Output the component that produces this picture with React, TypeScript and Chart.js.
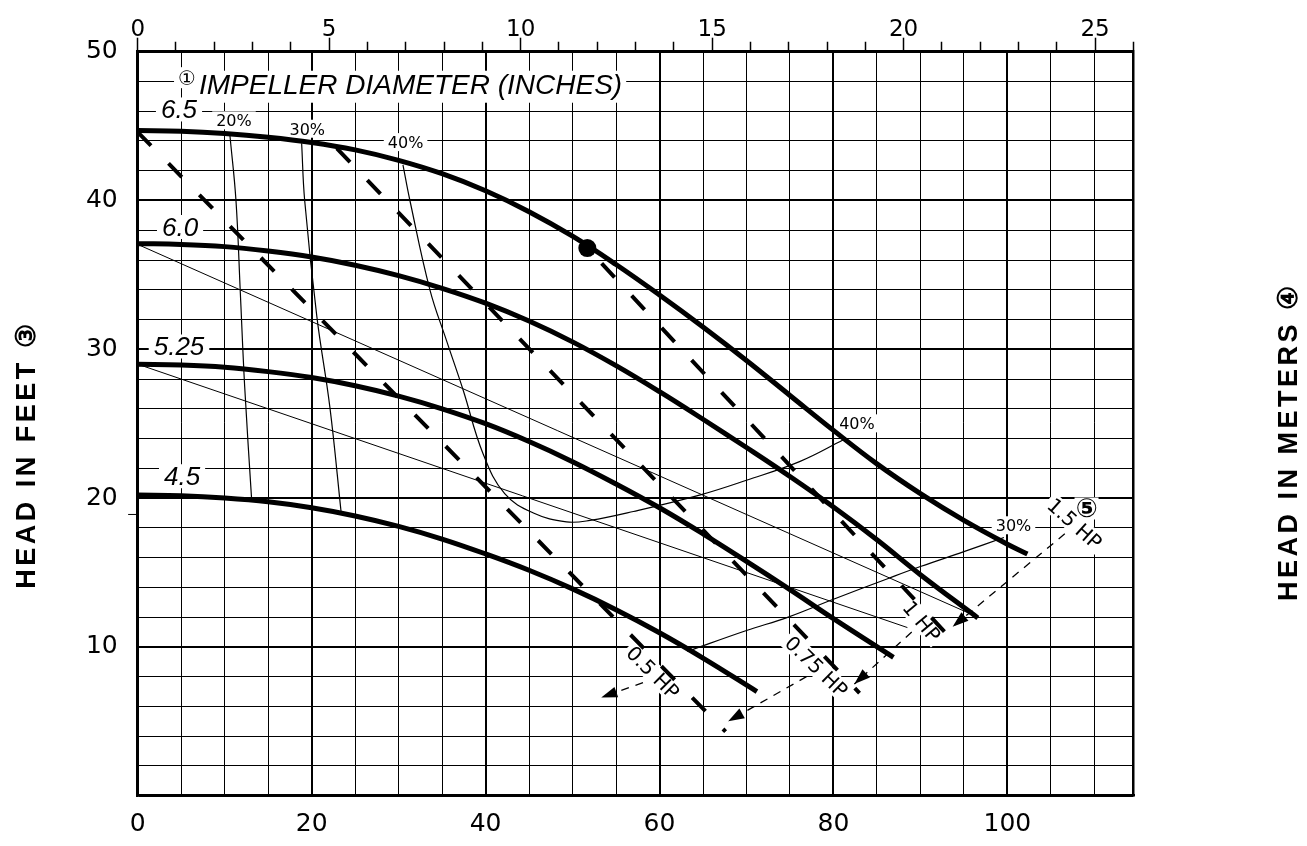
import React, { useEffect, useRef } from 'react';
import { Chart, registerables } from 'chart.js';

Chart.register(...registerables);

type Pt = [number, number];

// ---------- axes ----------
const X_MAX_GPM = 114.5;
const Y_MAX_FT = 50;
const GPM_TO_M3H = 0.2271;
const FT_TO_M = 0.3048;
const bottomTickLabels = [0, 20, 40, 60, 80, 100];
const topTickLabels = [0, 5, 10, 15, 20, 25];
const leftTickLabels = [10, 20, 30, 40, 50];

// ---------- impeller curves (GPM, ft) ----------
const impeller65: Pt[] = [[0, 44.7], [5, 44.65], [10, 44.5], [15, 44.25], [20, 43.9], [25, 43.4], [30, 42.7], [35, 41.8], [40, 40.65], [45, 39.25], [50, 37.6], [55, 35.7], [60, 33.65], [65, 31.5], [70, 29.25], [75, 26.9], [80, 24.55], [85, 22.3], [90, 20.3], [95, 18.5], [100, 16.9], [102.3, 16.25]];
const impeller60: Pt[] = [[0, 37.1], [5, 37.05], [10, 36.9], [15, 36.6], [20, 36.2], [25, 35.65], [30, 34.95], [35, 34.1], [40, 33.1], [45, 31.9], [50, 30.5], [55, 28.9], [60, 27.15], [65, 25.3], [70, 23.4], [75, 21.45], [80, 19.4], [85, 17.2], [90, 14.85], [96.6, 11.95]];
const impeller525: Pt[] = [[0, 29.0], [5, 28.95], [10, 28.8], [15, 28.5], [20, 28.1], [25, 27.55], [30, 26.85], [35, 26.0], [40, 25.0], [45, 23.8], [50, 22.45], [55, 20.95], [60, 19.35], [65, 17.6], [70, 15.75], [75, 13.85], [80, 11.9], [86.9, 9.3]];
const impeller45: Pt[] = [[0, 20.2], [5, 20.15], [10, 20.0], [15, 19.75], [20, 19.35], [25, 18.8], [30, 18.1], [35, 17.25], [40, 16.25], [45, 15.15], [50, 13.9], [55, 12.5], [60, 10.95], [65, 9.25], [71.2, 7.0]];

// ---------- horsepower lines ----------
const hp05: Pt[] = [[0, 44.6], [67.6, 4.3]];
const hp075: Pt[] = [[22.9, 43.5], [83.0, 6.9]];
const hp1: Pt[] = [[51.7, 36.8], [93.6, 10.5]];

// ---------- efficiency curves ----------
const eff20: Pt[] = [[10.6, 44.4], [11.3, 40.0], [11.8, 33.8], [12.3, 27.5], [13.1, 19.9]];
const eff30: Pt[] = [[18.85, 43.85], [19.2, 40.0], [20.6, 32.2], [22.1, 26.1], [23.4, 19.0]];
const eff40: Pt[] = [[30.5, 42.4], [31.3, 40.0], [33.6, 34.0], [35.5, 30.6], [37.4, 27.3], [39.7, 23.0], [42.2, 20.3], [45.5, 19.0], [49.3, 18.4], [52, 18.5], [57, 19.1], [64.6, 20.2], [70, 21.2], [76.1, 22.45], [81.1, 23.9]];
const eff30Right: Pt[] = [[63.2, 9.7], [70, 11.1], [74.8, 12.0], [80, 13.2], [86.3, 14.6], [90, 15.4], [95, 16.4], [99.6, 17.35]];

// ---------- thin straight lines ----------
const lineFrom60: Pt[] = [[0, 37.05], [96.6, 12.0]];
const lineFrom525: Pt[] = [[0, 29.0], [88.5, 11.3]];

// ---------- leaders with arrows ----------
const leader15: Pt[] = [[106.6, 17.6], [93.7, 11.35]];
const leader1: Pt[] = [[89.0, 11.0], [82.4, 7.5]];
const leader075: Pt[] = [[76.9, 8.0], [67.9, 5.0]];
const leader05: Pt[] = [[58.1, 7.6], [53.3, 6.6]];
const leaders = [leader15, leader1, leader075, leader05];

const bepPoint: Pt[] = [[51.7, 36.8]];
const axisMark: Pt[] = [[-1.1, 18.9], [0, 18.9]];

// ---------- labels (positions in GPM / ft) ----------
type Lbl = { text: string; x: number; y: number };
const impellerLabels: Lbl[] = [
  { text: '6.5', x: 4.75, y: 46.0 },
  { text: '6.0', x: 4.87, y: 38.1 },
  { text: '5.25', x: 4.75, y: 30.07 },
  { text: '4.5', x: 5.1, y: 21.35 },
];
const effLabels: Lbl[] = [
  { text: '20%', x: 11.07, y: 45.26 },
  { text: '30%', x: 19.5, y: 44.7 },
  { text: '40%', x: 30.8, y: 43.8 },
  { text: '40%', x: 82.7, y: 24.9 },
  { text: '30%', x: 100.7, y: 18.05 },
];
const hpLabels: Lbl[] = [
  { text: '0.5 HP', x: 59.1, y: 8.2 },
  { text: '0.75 HP', x: 77.9, y: 8.6 },
  { text: '1 HP', x: 90.0, y: 11.65 },
  { text: '1.5 HP', x: 107.6, y: 18.2 },
];
const hpAngles = [45, 44, 50, 42];
const noteMarks: Lbl[] = [
  { text: '①', x: 5.67, y: 48.1 },
  { text: '⑤', x: 109.1, y: 19.15 },
];
const diameterTitle: Lbl = { text: 'IMPELLER DIAMETER (INCHES)', x: 7.05, y: 47.7 };
const leftTitle = 'HEAD IN FEET ③';
const rightTitle = 'HEAD IN METERS ④';

const toXY = (pts: Pt[]) => pts.map(([x, y]) => ({ x, y }));

type Style = { font: string; rotate?: number; align?: CanvasTextAlign; bg?: boolean; padX?: number; padY?: number };

function placeText(ctx: CanvasRenderingContext2D, chart: any, item: Lbl, st: Style, mode: 'bg' | 'fg') {
  const px = chart.scales.x.getPixelForValue(item.x);
  const py = chart.scales.y.getPixelForValue(item.y);
  ctx.save();
  ctx.translate(px, py);
  ctx.rotate(((st.rotate || 0) * Math.PI) / 180);
  ctx.font = st.font;
  ctx.textAlign = st.align || 'center';
  ctx.textBaseline = 'middle';
  if (mode === 'bg') {
    if (st.bg !== false) {
      const m = ctx.measureText(item.text);
      const w = m.width;
      const asc = m.actualBoundingBoxAscent;
      const desc = m.actualBoundingBoxDescent;
      const padX = st.padX ?? 4;
      const padY = st.padY ?? 3;
      const left = (st.align === 'left' ? 0 : -w / 2) - padX;
      ctx.fillStyle = '#ffffff';
      ctx.fillRect(left, -asc - padY, w + 2 * padX, asc + desc + 2 * padY);
    }
  } else {
    ctx.fillStyle = '#000000';
    ctx.fillText(item.text, 0, 0);
  }
  ctx.restore();
}

function drawAllLabels(chart: any, mode: 'bg' | 'fg') {
  const ctx: CanvasRenderingContext2D = chart.ctx;
  impellerLabels.forEach((l) => placeText(ctx, chart, l, { font: 'italic 26px "Liberation Sans"', padX: 5 }, mode));
  effLabels.forEach((l) => placeText(ctx, chart, l, { font: '16px "DejaVu Sans"', padX: 4 }, mode));
  hpLabels.forEach((l, i) => placeText(ctx, chart, l, { font: '20px "DejaVu Sans"', rotate: hpAngles[i], padX: 3, padY: 3 }, mode));
  placeText(ctx, chart, noteMarks[0], { font: '20px "DejaVu Sans"', padX: 4 }, mode);
  placeText(ctx, chart, noteMarks[1], { font: 'bold 26px "DejaVu Sans"', padX: 1, padY: 1 }, mode);
  placeText(ctx, chart, diameterTitle, { font: 'italic 28px "Liberation Sans"', align: 'left', padX: 4 }, mode);
}

const annotate = {
  id: 'annotate',
  beforeDatasetsDraw(chart: any) {
    drawAllLabels(chart, 'bg');
  },
  afterDatasetsDraw(chart: any) {
    const ctx: CanvasRenderingContext2D = chart.ctx;
    const xs = chart.scales.x;
    const ys = chart.scales.y;
    ctx.save();
    ctx.fillStyle = '#000';
    leaders.forEach((pts) => {
      const a = pts[pts.length - 2];
      const b = pts[pts.length - 1];
      const x1 = xs.getPixelForValue(a[0]);
      const y1 = ys.getPixelForValue(a[1]);
      const x2 = xs.getPixelForValue(b[0]);
      const y2 = ys.getPixelForValue(b[1]);
      const ang = Math.atan2(y2 - y1, x2 - x1);
      const len = 16;
      const half = 5.5;
      ctx.beginPath();
      ctx.moveTo(x2, y2);
      ctx.lineTo(x2 - len * Math.cos(ang) + half * Math.sin(ang), y2 - len * Math.sin(ang) - half * Math.cos(ang));
      ctx.lineTo(x2 - len * Math.cos(ang) - half * Math.sin(ang), y2 - len * Math.sin(ang) + half * Math.cos(ang));
      ctx.closePath();
      ctx.fill();
    });
    ctx.restore();
    drawAllLabels(chart, 'fg');
  },
  afterDraw(chart: any) {
    const ctx: any = chart.ctx;
    const area = chart.chartArea;
    const midY = (area.top + area.bottom) / 2;
    ctx.save();
    ctx.fillStyle = '#000';
    ctx.font = 'bold 27px "Liberation Sans"';
    ctx.textAlign = 'center';
    ctx.textBaseline = 'middle';
    try { ctx.letterSpacing = '3.5px'; } catch (e) { /* ignore */ }
    ctx.save();
    ctx.translate(28, midY + 31);
    ctx.rotate(-Math.PI / 2);
    ctx.fillText(leftTitle, 0, 0);
    ctx.restore();
    ctx.save();
    ctx.translate(1290, midY + 18);
    ctx.rotate(-Math.PI / 2);
    ctx.fillText(rightTitle, 0, 0);
    ctx.restore();
    ctx.restore();
  },
};

function lineSet(pts: Pt[], width: number, extra: any = {}) {
  return {
    data: toXY(pts),
    showLine: true,
    borderColor: '#000',
    backgroundColor: '#000',
    borderWidth: width,
    pointRadius: 0,
    pointHoverRadius: 0,
    borderCapStyle: 'butt',
    borderJoinStyle: 'round',
    ...extra,
  };
}

export default function App() {
  const ref = useRef<HTMLCanvasElement>(null);
  useEffect(() => {
    if (!ref.current) return;
    const smooth = { tension: 0.4 };
    const datasets: any[] = [
      lineSet(lineFrom60, 1),
      lineSet(lineFrom525, 1),
      lineSet(eff20, 1.2, smooth),
      lineSet(eff30, 1.2, smooth),
      lineSet(eff40, 1.2, smooth),
      lineSet(eff30Right, 1.2, smooth),
      lineSet(hp05, 4, { borderDash: [19, 25] }),
      lineSet(hp075, 4, { borderDash: [19, 25] }),
      lineSet(hp1, 4, { borderDash: [19, 25], borderDashOffset: 23 }),
      ...leaders.map((p) => lineSet(p, 1.3, { borderDash: [8, 7] })),
      lineSet(impeller65, 5, smooth),
      lineSet(impeller60, 5, smooth),
      lineSet(impeller525, 5, smooth),
      lineSet(impeller45, 5, smooth),
      lineSet(axisMark, 1, { clip: false }),
      { data: toXY(bepPoint), showLine: false, pointRadius: 9, pointBackgroundColor: '#000', pointBorderColor: '#000', pointBorderWidth: 0 },
    ];
    const tickFont = { family: 'DejaVu Sans', size: 25 };
    const border = { display: true, color: '#000', width: 2.5 };
    const chart = new Chart(ref.current, {
      type: 'scatter',
      data: { datasets },
      options: {
        responsive: false,
        animation: false,
        events: [],
        layout: { padding: 0 },
        plugins: { legend: { display: false }, tooltip: { enabled: false } },
        scales: {
          x: {
            type: 'linear',
            position: 'bottom',
            min: 0,
            max: X_MAX_GPM,
            afterFit: (s: any) => { s.height = 50.3; },
            ticks: {
              stepSize: 5,
              includeBounds: false,
              autoSkip: false,
              maxRotation: 0,
              padding: 14,
              color: '#000',
              font: tickFont,
              callback: (v: any) => (bottomTickLabels.includes(Number(v)) ? String(v) : ''),
            },
            grid: {
              color: '#000',
              drawTicks: false,
              lineWidth: (c: any) => (c.tick && c.tick.value % 20 === 0 ? 2 : 1),
            },
            border,
          },
          x2: {
            type: 'linear',
            axis: 'x',
            position: 'top',
            min: 0,
            max: X_MAX_GPM * GPM_TO_M3H,
            afterFit: (s: any) => { s.height = 51.7; },
            ticks: {
              stepSize: 1,
              includeBounds: false,
              autoSkip: false,
              maxRotation: 0,
              padding: -6,
              color: '#000',
              font: { family: 'DejaVu Sans', size: 23 },
              callback: (v: any) => (topTickLabels.includes(Number(v)) ? String(v) : ''),
            },
            grid: {
              drawOnChartArea: false,
              drawTicks: true,
              tickLength: 14,
              tickColor: '#000',
              tickWidth: 1.5,
              tickBorderDash: (c: any) => (c.tick && c.tick.value % 5 === 0 ? [] : [0, 4, 20, 100]),
            },
            border,
          },
          y: {
            type: 'linear',
            position: 'left',
            min: 0,
            max: Y_MAX_FT,
            afterFit: (s: any) => { s.width = 137.7; },
            ticks: {
              stepSize: 2,
              autoSkip: false,
              padding: 20,
              color: '#000',
              font: tickFont,
              callback: (v: any) => (leftTickLabels.includes(Number(v)) ? String(v) : ''),
            },
            grid: {
              color: '#000',
              drawTicks: false,
              lineWidth: (c: any) => (c.tick && c.tick.value % 10 === 0 ? 2 : 1),
            },
            border,
          },
          y2: {
            type: 'linear',
            axis: 'y',
            position: 'right',
            min: 0,
            max: Y_MAX_FT * FT_TO_M,
            afterFit: (s: any) => { s.width = 173.5; },
            ticks: { display: false },
            grid: { drawOnChartArea: false, drawTicks: false },
            border,
          },
        },
      } as any,
      plugins: [annotate],
    });
    return () => chart.destroy();
  }, []);

  return (
    <div style={{ position: 'fixed', left: 0, top: 0, width: 1307, height: 846, background: '#fff' }}>
      <canvas ref={ref} width={1307} height={846} style={{ display: 'block', width: 1307, height: 846 }} />
    </div>
  );
}
